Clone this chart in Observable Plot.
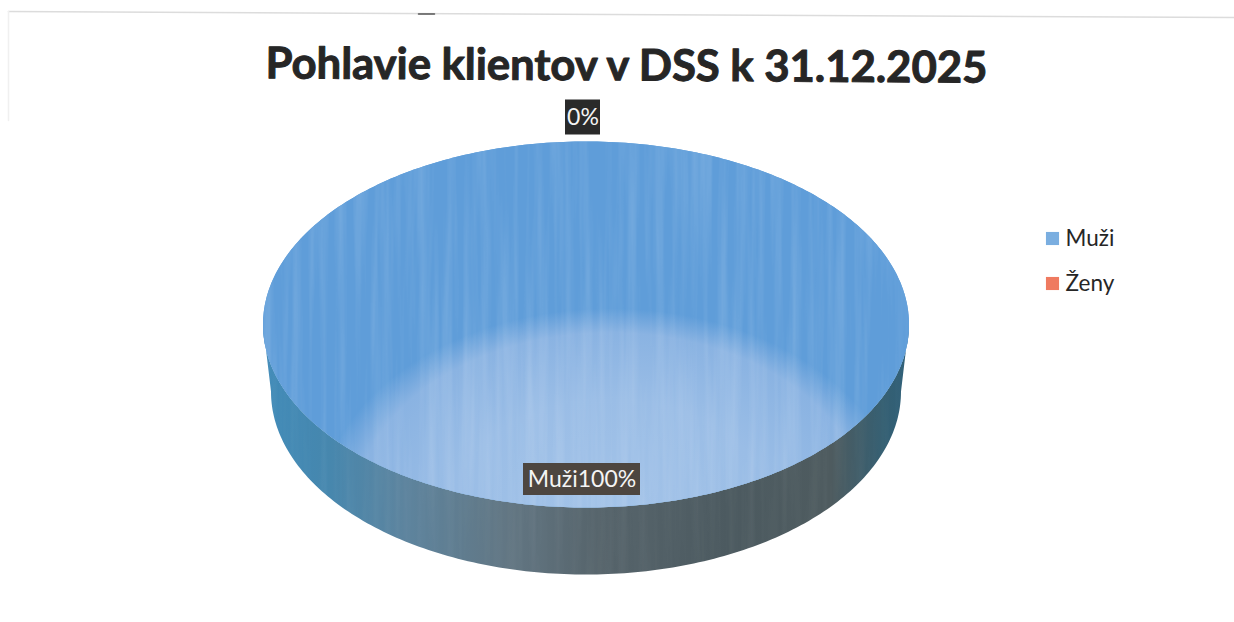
<!DOCTYPE html>
<html><head><meta charset="utf-8">
<script src="https://cdn.jsdelivr.net/npm/d3@7"></script>
<script src="https://cdn.jsdelivr.net/npm/@observablehq/plot@0.6"></script>
<style>html,body{margin:0;padding:0;background:#fff}svg{display:block}</style>
</head><body><div id="chart"></div>
<script>
const titleText = "Pohlavie klientov v DSS k 31.12.2025";
const categories = ["Muži", "Ženy"];
const values = [100, 0];
const legendColors = ["#7aaee0", "#ef7a60"];

// picture geometry of the tilted pie
const cx = 585.5, cy = 324, rx = 323, ry = 183;
const bx = 585.5, by = 391, brx = 315, bry = 183;

const slices = d3.pie().sort(null).value(d => d)(values);
const main = slices[0];
const turn = t => main.startAngle + (main.endAngle - main.startAngle) * t;
const samples = d3.range(0, 361).map(i => i / 360);
const topFace = samples.map(t => ({x: cx + rx * Math.sin(turn(t)), y: cy - ry * Math.cos(turn(t))}));
const arcT = samples.filter(t => t >= 0.25 && t <= 0.75);
const rim = [
  ...arcT.map(t => ({x: cx + rx * Math.sin(turn(t)), y: cy - ry * Math.cos(turn(t))})),
  ...arcT.slice().reverse().map(t => ({x: bx + brx * Math.sin(turn(t)), y: by - bry * Math.cos(turn(t))}))
];

const labels = [
  {text: categories[0] + d3.format(".0%")(values[0] / d3.sum(values)), x: 581.5, y: 479, w: 117, h: 32, bg: "#4d4640"},
  {text: d3.format(".0%")(values[1] / d3.sum(values)), x: 582.5, y: 117, w: 35, h: 35, bg: "#2a2a2a"}
];

const defs = () => {
  const g = document.createElementNS("http://www.w3.org/2000/svg", "g");
  g.innerHTML = `<defs>
    <radialGradient id="faceGrad" gradientUnits="userSpaceOnUse" cx="0" cy="0" r="1" gradientTransform="translate(610 510) scale(290 202)">
      <stop offset="0" stop-color="#a3c3e8"/><stop offset=".55" stop-color="#9abde6"/>
      <stop offset=".88" stop-color="#8ab3e2"/><stop offset="1" stop-color="#5f9dd9"/>
    </radialGradient>
    <linearGradient id="rimGrad" gradientUnits="userSpaceOnUse" x1="262" x2="908" y1="0" y2="0">
      <stop offset="0" stop-color="#3f8ab8"/><stop offset=".1" stop-color="#4687ae"/>
      <stop offset=".22" stop-color="#5d849e"/><stop offset=".38" stop-color="#627683"/>
      <stop offset=".52" stop-color="#56646b"/><stop offset=".72" stop-color="#4c5a60"/>
      <stop offset=".88" stop-color="#4e5b5f"/><stop offset=".96" stop-color="#355f72"/><stop offset="1" stop-color="#2f6079"/>
    </linearGradient>
    <filter id="streaks" x="0" y="0" width="1" height="1">
      <feTurbulence type="fractalNoise" baseFrequency="0.11 0.004" numOctaves="3" seed="4"/>
      <feColorMatrix type="matrix" values="0 0 0 0 1  0 0 0 0 1  0 0 0 0 1  1.6 0 0 0 -0.62"/>
      <feComposite in2="SourceAlpha" operator="in"/>
    </filter>
  </defs>`;
  return g;
};

const streaked = (i, s, v, d, c, next) => { const g = next(i, s, v, d, c); g.setAttribute("filter", "url(#streaks)"); return g; };

const chart = Plot.plot({
  width: 1234, height: 622, margin: 0,
  x: {domain: [0, 1234], range: [0, 1234], axis: null},
  y: {domain: [0, 622], range: [0, 622], axis: null},
  style: {background: "#fff"},
  marks: [
    defs,
    // scanned page frame
    Plot.line([{x: 8, y: 11}, {x: 400, y: 13}, {x: 1234, y: 17}], {x: "x", y: "y", stroke: "#dcdcdc", strokeWidth: 1.6}),
    Plot.line([{x: 8, y: 11}, {x: 8, y: 120}], {x: "x", y: "y", stroke: "#f0f0f0", strokeWidth: 1.5}),
    Plot.line([{x: 418, y: 13.5}, {x: 434, y: 13.5}], {x: "x", y: "y", stroke: "#555", strokeWidth: 1.5}),
    // pie
    Plot.line(rim, {x: "x", y: "y", fill: "url(#rimGrad)", stroke: "none", curve: "linear-closed"}),
    Plot.line(rim, {x: "x", y: "y", fill: "#fff", stroke: "none", curve: "linear-closed", opacity: 0.06, render: streaked}),
    Plot.line(topFace, {x: "x", y: "y", fill: "#5c9cd9", stroke: "none", curve: "linear-closed"}),
    Plot.line(topFace, {x: "x", y: "y", fill: "url(#faceGrad)", stroke: "none", curve: "linear-closed"}),
    Plot.line(topFace, {x: "x", y: "y", fill: "#fff", stroke: "none", curve: "linear-closed", opacity: 0.16, render: streaked}),
    // data labels
    Plot.rect(labels, {x1: d => d.x - d.w / 2, x2: d => d.x + d.w / 2, y1: d => d.y - d.h / 2, y2: d => d.y + d.h / 2, fill: "bg"}),
    Plot.text(labels, {x: "x", y: "y", text: "text", fill: "#f4f4f4", fontSize: 23, fontFamily: "Lato, 'Open Sans', sans-serif"}),
    // title
    Plot.text([titleText], {x: 626, y: 66, text: d => d, fill: "#262626", fontSize: 43.6, fontWeight: 700, rotate: 0.35,
      fontFamily: "Lato, 'Open Sans', sans-serif", stroke: "#262626", strokeWidth: 1}),
    // legend
    Plot.dot(categories, {x: () => 1052, y: (d, i) => 238 + i * 45, symbol: "square", r: 7.4, fill: (d, i) => legendColors[i], stroke: "none"}),
    Plot.text(categories, {x: () => 1065, y: (d, i) => 238 + i * 45, text: d => d, textAnchor: "start", fill: "#262626", fontSize: 22.5, fontFamily: "Lato, 'Open Sans', sans-serif"})
  ]
});
document.getElementById("chart").append(chart);
</script></body></html>
